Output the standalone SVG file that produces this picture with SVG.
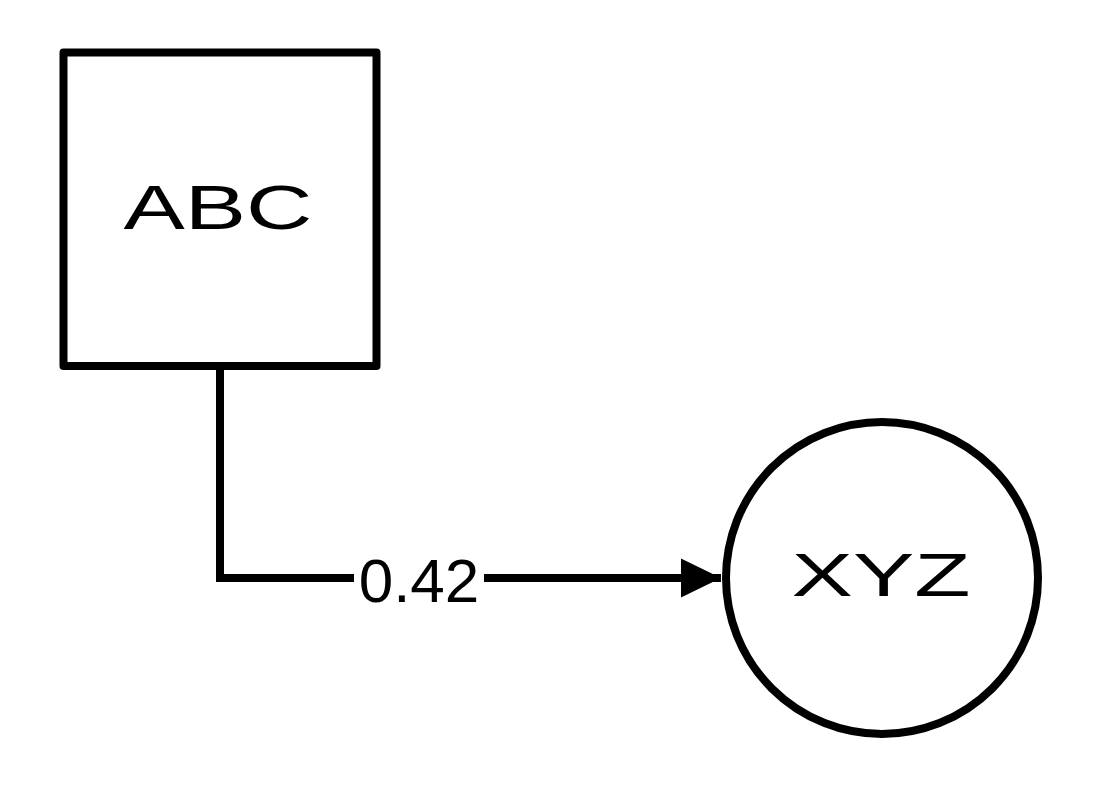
<svg xmlns="http://www.w3.org/2000/svg" width="1103" height="788" viewBox="0 0 1103 788">
<style>
.shape{fill:#fff;stroke:#000;stroke-width:8;stroke-linejoin:round}
.lbl{font-family:"Liberation Sans",Arial,sans-serif;fill:#000;text-anchor:middle}
.edge{fill:none;stroke:#000;stroke-width:8}
</style>
<defs>
<marker id="arrow" markerUnits="userSpaceOnUse" markerWidth="40" markerHeight="40" refX="40" refY="19.5" orient="auto" viewBox="0 0 40 39">
<path d="M0,0 L40,19.5 L0,39 Z" fill="#000"/>
</marker>
</defs>
<rect width="1103" height="788" fill="#fff"/>
<g id="connectors">
<path class="edge" d="M220,366 L220,578 L721,578" marker-end="url(#arrow)"/>
<rect x="354" y="550" width="130" height="60" fill="#fff"/>
<text class="lbl" x="419" y="602" font-size="62">0.42</text>
</g>
<g id="node-abc">
<rect class="shape" x="63.5" y="52.5" width="313" height="313.5"/>
<text class="lbl" x="218" y="229" font-size="63" textLength="189" lengthAdjust="spacingAndGlyphs">ABC</text>
</g>
<g id="node-xyz">
<circle class="shape" cx="882" cy="578" r="156"/>
<text class="lbl" x="881" y="596" font-size="61" textLength="179" lengthAdjust="spacingAndGlyphs">XYZ</text>
</g>
</svg>
